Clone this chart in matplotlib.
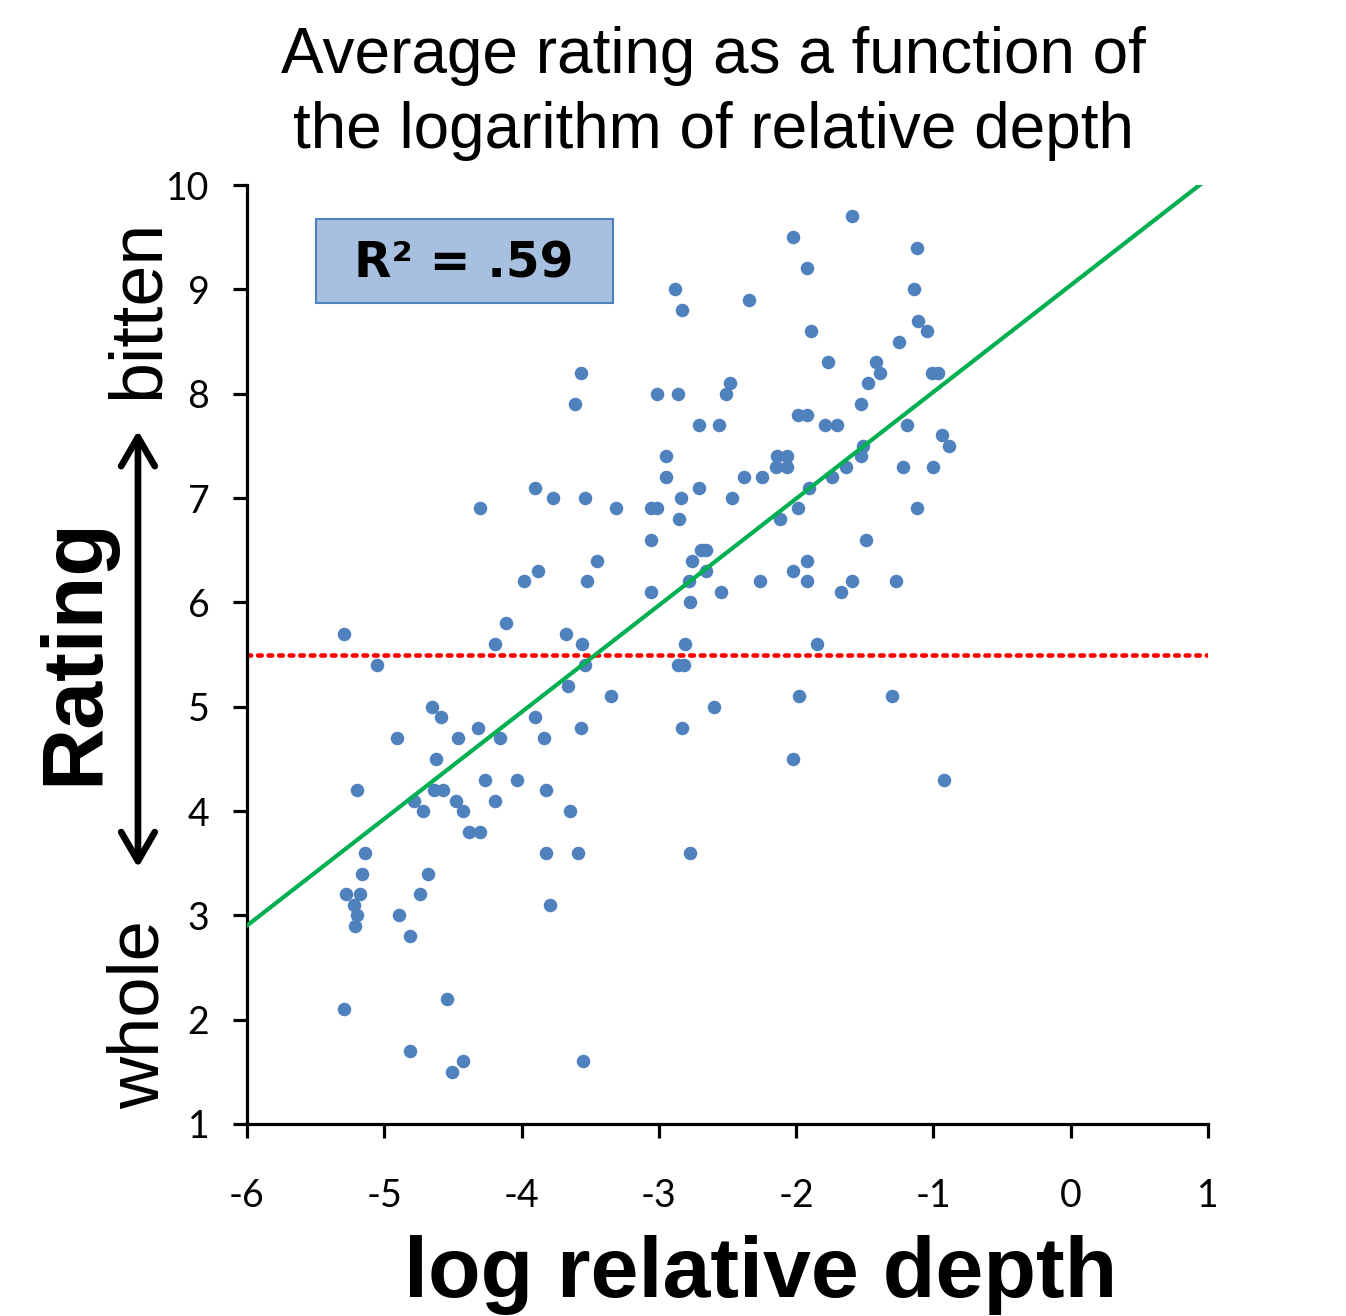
import numpy as np
import matplotlib
matplotlib.use("Agg")
import matplotlib.pyplot as plt
from matplotlib.patches import Rectangle, FancyArrowPatch

plt.rcParams["axes.unicode_minus"] = False

# log relative depth / average rating
log_depth = [
    -5.29, -5.05, -5.20, -5.14, -5.16, -5.28, -5.18, -5.22, -5.20, -5.21, -5.29,
    -4.91, -4.89, -4.81, -4.81, -4.78, -4.72, -4.74, -4.68, -4.65, -4.59, -4.62,
    -4.64, -4.57, -4.54, -4.51, -4.43, -4.46, -4.48, -4.43, -4.38, -4.30, -4.32,
    -4.27, -4.30, -4.19, -4.16, -4.19, -4.11, -4.03, -3.98, -3.88, -3.90, -3.77,
    -3.90, -3.84, -3.82, -3.82, -3.79, -3.68, -3.66, -3.65, -3.61, -3.57, -3.57,
    -3.59, -3.55, -3.56, -3.54, -3.54, -3.52, -3.45, -3.35, -3.31,
    -1.59, -2.02, -1.12, -1.92, -2.88, -1.14, -2.83, -2.34, -1.11, -1.05, -1.89,
    -1.25, -1.77, -1.42, -1.39, -1.01, -0.97, -1.48, -2.48, -2.51, -3.01, -2.86,
    -1.53, -1.99, -1.92, -2.71, -2.56, -1.79, -1.70, -1.19, -0.94, -0.89, -1.51,
    -1.53, -2.95, -2.14, -2.07, -2.15, -2.07, -1.64, -1.22, -1.00, -2.95, -2.38,
    -2.25, -1.74, -2.71, -1.91, -2.84, -2.47, -3.06, -3.01, -1.99, -1.12, -2.12,
    -2.85, -3.06, -1.49, -2.69, -2.66, -2.76, -1.92, -2.66, -2.02, -2.78, -2.26,
    -1.92, -1.59, -1.27, -3.06, -2.55, -1.67, -2.77, -2.81, -1.85, -2.86, -2.82,
    -1.98, -1.30, -2.60, -2.83, -2.02, -0.92, -2.77,
]
rating = [
    5.7, 5.4, 4.2, 3.6, 3.4, 3.2, 3.2, 3.1, 3.0, 2.9, 2.1,
    4.7, 3.0, 2.8, 1.7, 4.1, 4.0, 3.2, 3.4, 5.0, 4.9, 4.5,
    4.2, 4.2, 2.2, 1.5, 1.6, 4.7, 4.1, 4.0, 3.8, 3.8, 4.8,
    4.3, 6.9, 5.6, 4.7, 4.1, 5.8, 4.3, 6.2, 6.3, 7.1, 7.0,
    4.9, 4.7, 4.2, 3.6, 3.1, 5.7, 5.2, 4.0, 7.9, 8.2, 4.8,
    3.6, 1.6, 5.6, 5.4, 7.0, 6.2, 6.4, 5.1, 6.9,
    9.7, 9.5, 9.4, 9.2, 9.0, 9.0, 8.8, 8.9, 8.7, 8.6, 8.6,
    8.5, 8.3, 8.3, 8.2, 8.2, 8.2, 8.1, 8.1, 8.0, 8.0, 8.0,
    7.9, 7.8, 7.8, 7.7, 7.7, 7.7, 7.7, 7.7, 7.6, 7.5, 7.5,
    7.4, 7.4, 7.4, 7.4, 7.3, 7.3, 7.3, 7.3, 7.3, 7.2, 7.2,
    7.2, 7.2, 7.1, 7.1, 7.0, 7.0, 6.9, 6.9, 6.9, 6.9, 6.8,
    6.8, 6.6, 6.6, 6.5, 6.5, 6.4, 6.4, 6.3, 6.3, 6.2, 6.2,
    6.2, 6.2, 6.2, 6.1, 6.1, 6.1, 6.0, 5.6, 5.6, 5.4, 5.4,
    5.1, 5.1, 5.0, 4.8, 4.5, 4.3, 3.6,
]
# trend line as drawn in the original (slope, intercept)
fit_slope = 1.023
fit_intercept = 9.04
midpoint = 5.5
r2_label = "R\u00b2 = .59"
x_ticks = [-6, -5, -4, -3, -2, -1, 0, 1]
y_ticks = [1, 2, 3, 4, 5, 6, 7, 8, 9, 10]

fig = plt.figure(figsize=(13.46, 13.16), dpi=100)
ax = fig.add_axes([0.1835, 0.1459, 0.714, 0.7135])

ax.scatter(log_depth, rating, s=95, color="#4f81bd", zorder=3, linewidths=0)

xs = np.array(x_ticks[::len(x_ticks) - 1], dtype=float)
ax.plot(xs, fit_slope * xs + fit_intercept, color="#00b050", lw=3, zorder=4)

ax.plot(xs, [midpoint, midpoint], color="#ff0000", lw=3.3,
        linestyle=(0, (0.8, 1.5)), dash_capstyle="round", zorder=2)

ax.set_xlim(-6, 1)
ax.set_ylim(1, 10)
ax.set_xticks(x_ticks)
ax.set_yticks(y_ticks)
ax.spines["top"].set_visible(False)
ax.spines["right"].set_visible(False)
for s in ["left", "bottom"]:
    ax.spines[s].set_linewidth(2.3)
ax.tick_params(axis="both", width=2.3, length=10, labelsize=27, colors="black")
ax.tick_params(axis="y", pad=17)
ax.tick_params(axis="x", pad=29)
for lab in ax.get_xticklabels() + ax.get_yticklabels():
    lab.set_fontfamily("Lato")

ax.add_patch(Rectangle((0.0718, 0.8743), 0.309, 0.0895, transform=ax.transAxes,
                       facecolor="#a7c0df", edgecolor="#4f81bd", lw=1.5, zorder=5))
ax.text(0.226, 0.916, r2_label, transform=ax.transAxes, ha="center", va="center",
        fontsize=35, fontweight="bold", family="DejaVu Sans", zorder=6)

fig.text(0.530, 0.929, "Average rating as a function of\nthe logarithm of relative depth",
         ha="center", va="center", fontsize=46, family="Liberation Sans", linespacing=1.33)
fig.text(0.565, 1 - 1297 / 1316, "log relative depth", ha="center", va="baseline",
         fontsize=62, fontweight="bold", family="Liberation Sans")
fig.text(0.056, 0.505, "Rating", ha="center", va="center", rotation=90,
         fontsize=62, fontweight="bold", family="Liberation Sans")
fig.text(0.1025, 0.765, "bitten", ha="center", va="center", rotation=90,
         fontsize=53, family="Liberation Sans")
fig.text(0.104, 0.229, "whole", ha="center", va="center", rotation=90,
         fontsize=52, family="Liberation Sans")
fig.add_artist(FancyArrowPatch(
    (0.1025, 0.3385), (0.1025, 0.675), transform=fig.transFigure,
    arrowstyle="<->,head_length=0.95,head_width=0.55", mutation_scale=22,
    lw=4.8, color="black", capstyle="round", joinstyle="round"))

fig.savefig("out.png", dpi=100)
